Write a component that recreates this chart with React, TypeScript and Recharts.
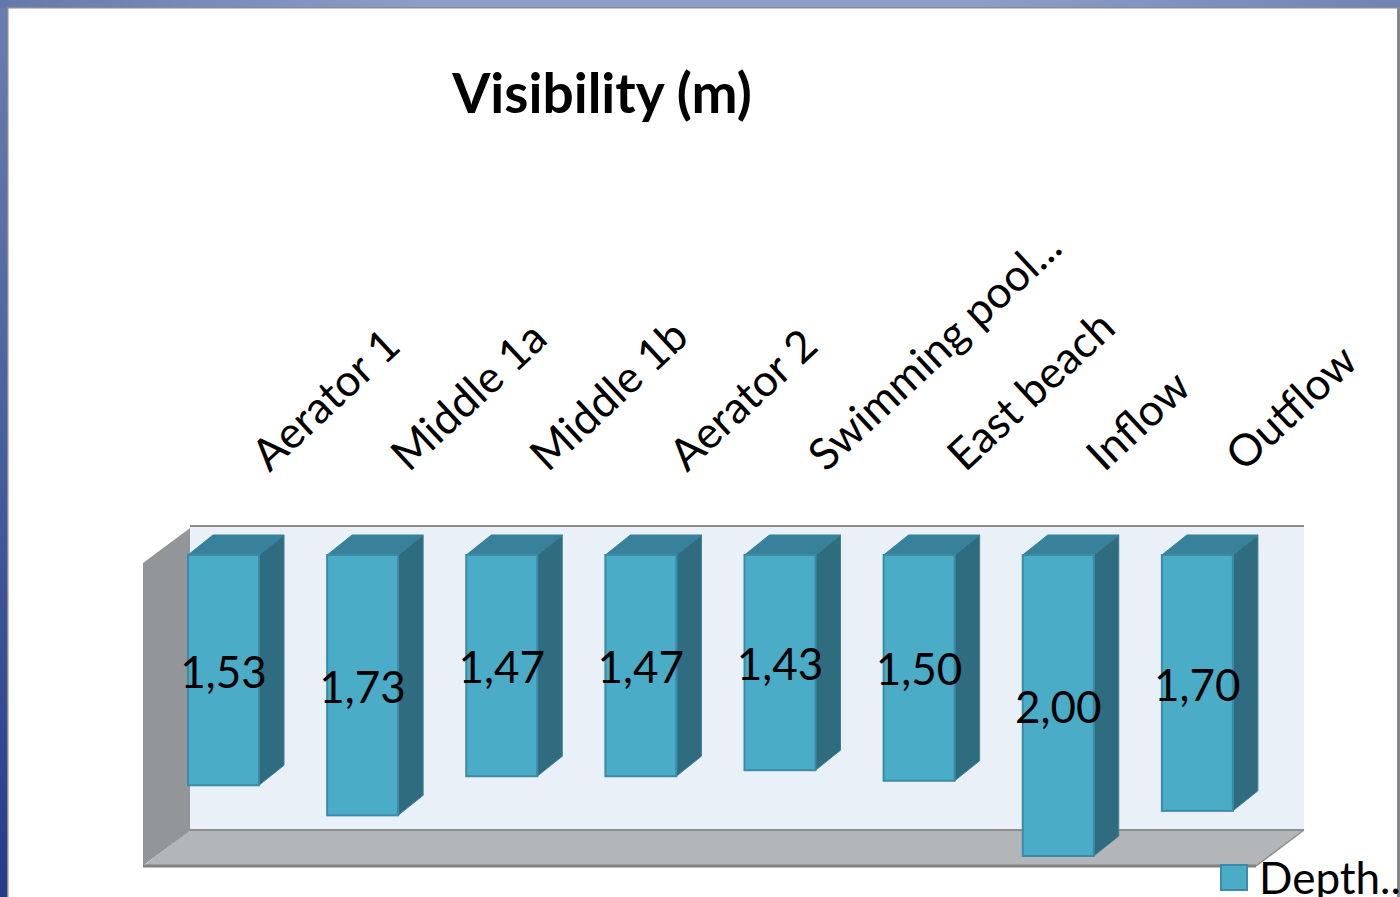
import { BarChart, Bar, XAxis, YAxis, LabelList, Legend } from "recharts";

const sites = [
  "Aerator 1",
  "Middle 1a",
  "Middle 1b",
  "Aerator 2",
  "Swimming pool...",
  "East beach",
  "Inflow",
  "Outflow",
];
const visibility = [1.53, 1.73, 1.47, 1.47, 1.43, 1.5, 2.0, 1.7];
const seriesName = "Depth..";

const rows = sites.map((site, i) => ({ site, visibility: visibility[i] }));

const FONT = "Lato, 'Open Sans', sans-serif";
const DEPTH_X = 25;
const DEPTH_Y = 20;

// Front, top and side faces of a bar. The axis is reversed, so height comes in negative.
const Bar3D = (props: any) => {
  const { x, y, width, height } = props;
  const top = Math.min(y, y + height);
  const b = Math.max(y, y + height);
  const r = x + width;
  return (
    <g>
      <polygon
        points={`${r},${top} ${r + DEPTH_X},${top - DEPTH_Y} ${r + DEPTH_X},${b - DEPTH_Y} ${r},${b}`}
        fill="#306c80"
        stroke="#3a7f94"
        strokeWidth={1}
      />
      <polygon
        points={`${x},${top} ${x + DEPTH_X},${top - DEPTH_Y} ${r + DEPTH_X},${top - DEPTH_Y} ${r},${top}`}
        fill="#37829a"
        stroke="#35809a"
        strokeWidth={1}
      />
      <rect x={x} y={top} width={width} height={b - top} fill="#4bacc8" stroke="#3c8ba6" strokeWidth={2} />
    </g>
  );
};

const SiteTick = (props: any) => {
  const { x, payload } = props;
  const tx = x + 46;
  const ty = 473;
  return (
    <text
      x={tx}
      y={ty}
      transform={`rotate(-43 ${tx} ${ty})`}
      textAnchor="start"
      fontFamily={FONT}
      fontSize={44}
      fill="#000"
    >
      {payload.value}
    </text>
  );
};

const DepthLegend = ({ payload }: any) => (
  <div style={{ display: "flex", alignItems: "flex-start", whiteSpace: "nowrap", height: 0 }}>
    {(payload || []).map((p: any) => (
      <span key={p.value} style={{ display: "flex", alignItems: "center" }}>
        <span
          style={{
            width: 28,
            height: 27,
            background: "#4bacc8",
            border: "2px solid #3c8ba6",
            marginRight: 11,
            boxSizing: "border-box",
          }}
        />
        <span style={{ fontFamily: FONT, fontSize: 44, color: "#000", lineHeight: "52px" }}>{p.value}</span>
      </span>
    ))}
  </div>
);

// Slide frame plus the walls and floor of the 3D plot box
const Backdrop = () => (
  <svg width={1400} height={897} style={{ position: "absolute", left: 0, top: 0 }}>
    <defs>
      <linearGradient id="topBand" x1="0" x2="1" y1="0" y2="0">
        <stop offset="0" stopColor="#6479ab" />
        <stop offset="0.3" stopColor="#8d9dc9" />
        <stop offset="0.7" stopColor="#8d9dc9" />
        <stop offset="1" stopColor="#6f84b3" />
      </linearGradient>
      <linearGradient id="sideBand" x1="0" x2="0" y1="0" y2="1">
        <stop offset="0" stopColor="#6a7fb0" />
        <stop offset="0.5" stopColor="#465f9f" />
        <stop offset="1" stopColor="#263d86" />
      </linearGradient>
    </defs>
    <rect x={0} y={0} width={1400} height={897} fill="#fff" />
    <rect x={0} y={0} width={8} height={897} fill="url(#sideBand)" />
    <rect x={0} y={0} width={1400} height={8} fill="url(#topBand)" />
    <rect x={7} y={7} width={1.5} height={890} fill="#8a8a90" />
    <rect x={7} y={7} width={1393} height={1.5} fill="#8a8a90" />
    <rect x={1397} y={8} width={3} height={889} fill="#85888c" />

    <polygon points="190,527 1304,527 1304,830 190,830" fill="#e9f0f7" />
    <polygon points="143,563 190,528 190,830 143,865" fill="#939698" />
    <polygon points="190,830 1304,830 1256,866 143,866" fill="#b2b6b9" />
    <line x1={190} y1={526} x2={1304} y2={526} stroke="#8c8c8c" strokeWidth={2} />
    <line x1={190} y1={830} x2={1304} y2={830} stroke="#8e8e8e" strokeWidth={2} />
    <line x1={143} y1={866} x2={1256} y2={866} stroke="#808080" strokeWidth={3} />
    <line x1={1304} y1={830} x2={1256} y2={866} stroke="#8e8e8e" strokeWidth={1.5} />
    <line x1={190} y1={830} x2={143} y2={865} stroke="#8e8e8e" strokeWidth={1} />

    <text x={602} y={113} textAnchor="middle" fontFamily={FONT} fontWeight={700} fontSize={55} fill="#000">
      Visibility (m)
    </text>
  </svg>
);

export default function App() {
  return (
    <div style={{ position: "absolute", left: 0, top: 0, width: 1400, height: 897, overflow: "hidden" }}>
      <Backdrop />
      <div style={{ position: "absolute", left: 0, top: 0 }}>
        <BarChart
          width={1400}
          height={897}
          data={rows}
          barSize={71}
          margin={{ top: 525, right: 133, bottom: 41, left: 154 }}
        >
          <XAxis
            dataKey="site"
            orientation="top"
            height={30}
            axisLine={false}
            tickLine={false}
            interval={0}
            tick={<SiteTick />}
          />
          <YAxis type="number" domain={[0, 2]} reversed hide />
          <Legend
            content={<DepthLegend />}
            wrapperStyle={{ position: "absolute", left: 1220, top: 851, width: 200, height: 0, bottom: "auto" }}
          />
          <Bar dataKey="visibility" name={seriesName} shape={<Bar3D />} isAnimationActive={false}>
            <LabelList
              dataKey="visibility"
              position="center"
              formatter={(v: any) => Number(v).toFixed(2).replace(".", ",")}
              fontFamily={FONT}
              fontSize={44}
              fill="#000"
              dy={2}
            />
          </Bar>
        </BarChart>
      </div>
    </div>
  );
}
